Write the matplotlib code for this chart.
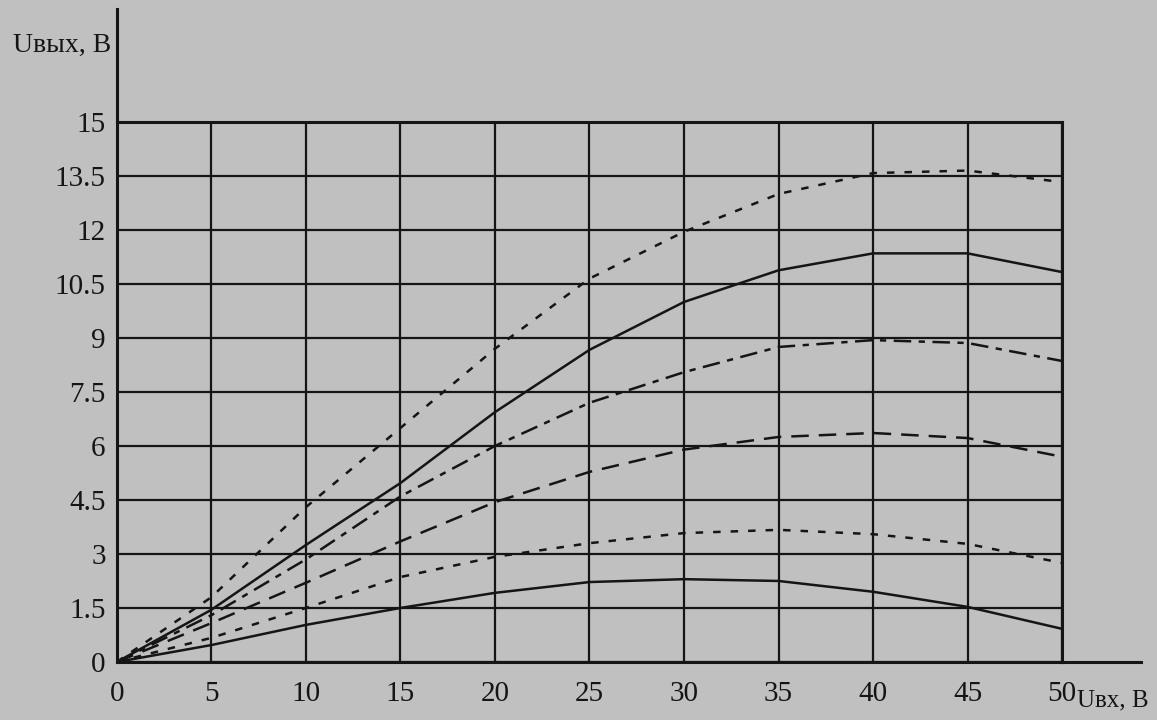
import matplotlib.pyplot as plt
import numpy as np

plt.rcParams['font.family'] = ['Liberation Serif', 'DejaVu Serif']

u_in = [0, 5, 10, 15, 20, 25, 30, 35, 40, 45, 50]
curve_top_dotted = [0, 1.8, 4.3, 6.5, 8.7, 10.65, 11.95, 13.0, 13.58, 13.65, 13.33]
curve_solid = [0, 1.45, 3.25, 4.97, 6.94, 8.67, 10.0, 10.88, 11.35, 11.35, 10.83]
curve_dashdot = [0, 1.3, 2.85, 4.6, 6.0, 7.2, 8.05, 8.75, 8.94, 8.86, 8.36]
curve_dashed = [0, 1.08, 2.2, 3.35, 4.44, 5.28, 5.9, 6.25, 6.36, 6.22, 5.7]
curve_low_dotted = [0, 0.67, 1.5, 2.36, 2.92, 3.3, 3.58, 3.67, 3.55, 3.28, 2.75]
curve_low_solid = [0, 0.47, 1.03, 1.5, 1.92, 2.22, 2.3, 2.25, 1.95, 1.53, 0.92]

x_ticks = [0, 5, 10, 15, 20, 25, 30, 35, 40, 45, 50]
y_ticks = [0, 1.5, 3, 4.5, 6, 7.5, 9, 10.5, 12, 13.5, 15]
y_labels = ['0', '1.5', '3', '4.5', '6', '7.5', '9', '10.5', '12', '13.5', '15']

bg = '#c0c0c0'
ink = '#151515'

fig = plt.figure(figsize=(11.57, 7.2), dpi=100, facecolor=bg)
ax = fig.add_axes([0.101, 0.0806, 0.817, 0.75])
ax.set_facecolor(bg)

lw = 1.8
ax.plot(u_in, curve_top_dotted, color=ink, lw=lw, dashes=(3, 4))
ax.plot(u_in, curve_solid, color=ink, lw=lw)
ax.plot(u_in, curve_dashdot, color=ink, lw=lw, dashes=(7, 3, 2.5, 3))
ax.plot(u_in, curve_dashed, color=ink, lw=lw, dashes=(7, 4))
ax.plot(u_in, curve_low_dotted, color=ink, lw=lw, dashes=(3, 4))
ax.plot(u_in, curve_low_solid, color=ink, lw=lw)

ax.set_xlim(0, 50)
ax.set_ylim(0, 15)
ax.set_xticks(x_ticks)
ax.set_yticks(y_ticks)
ax.set_yticklabels(y_labels)
ax.set_xticklabels([str(v) for v in x_ticks])
ax.tick_params(length=0, labelsize=21, colors=ink)
ax.tick_params(axis='x', pad=14)
ax.tick_params(axis='y', pad=8)
ax.grid(True, color=ink, lw=1.6)
ax.set_axisbelow(True)
for s in ax.spines.values():
    s.set_color(ink)
    s.set_linewidth(2.2)

# axis extensions beyond the frame
ax.plot([0, 0], [1, 1.21], transform=ax.transAxes, color=ink, lw=2.2, clip_on=False)
ax.plot([1, 1.083], [0, 0], transform=ax.transAxes, color=ink, lw=2.2, clip_on=False)

fig.text(0.011, 0.937, 'Uвых, В', fontsize=20, color=ink, ha='left', va='center')
fig.text(0.993, 0.027, 'Uвх, В', fontsize=18, color=ink, ha='right', va='center')

fig.savefig('out.png', dpi=100, facecolor=bg)
